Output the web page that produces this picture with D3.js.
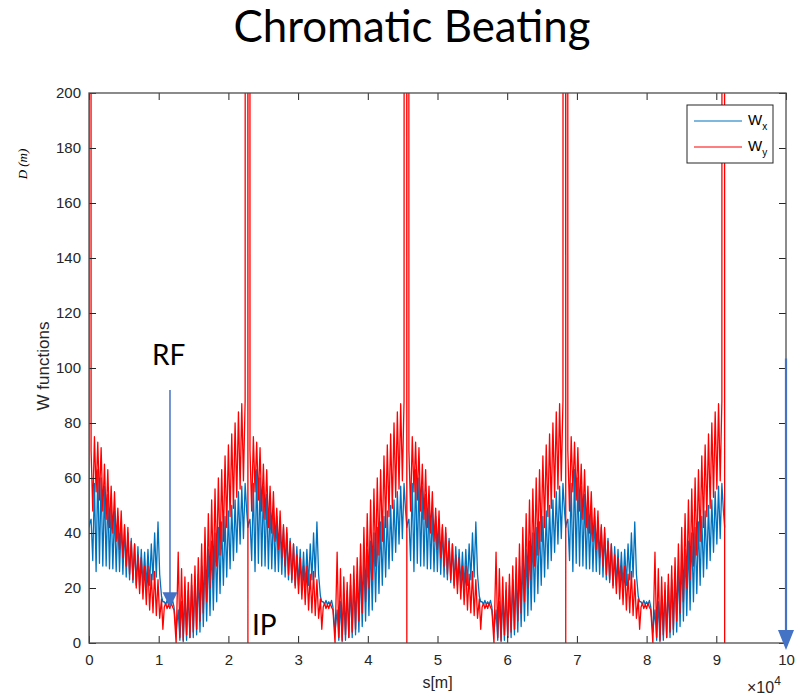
<!DOCTYPE html>
<html>
<head>
<meta charset="utf-8">
<script src="https://cdn.jsdelivr.net/npm/d3@7"></script>
<style>
  body { margin: 0; background: #fff; }
</style>
</head>
<body>
<div id="chart"></div>
<script>
// ---- data (s in units of 10^4 m, W in m) ----
var xTicks = [0, 1, 2, 3, 4, 5, 6, 7, 8, 9, 10];
var yTicks = [0, 20, 40, 60, 80, 100, 120, 140, 160, 180, 200];

// ring = 4 identical superperiods, IP at the start of each
var superPeriods = 4;
var superLength = 2.28;
var arcStep = 0.024;

// IP region (start of each superperiod and spike just before the next IP)
var sIP = [0, 0.015, 2.262];
var wyIP = [0, 3000, 3000];
var wxIP = [42, 44, 48];

// descending arc after the IP (peak, trough, peak, ...)
var arc1Start = 0.03;
var wyArc1 = [70, 48, 75, 55, 73, 52, 71, 48, 65, 45, 63, 42, 57, 40, 55, 37, 49, 34, 48, 31, 43, 28,
              42, 25, 37, 23, 36, 20, 32, 18, 31, 16, 28, 14, 28, 12, 25, 11, 26, 10, 23, 9];
var wxArc1 = [45, 30, 58, 26, 63, 29, 60, 28, 57, 28, 54, 27, 51, 27, 48, 26, 46, 26, 44, 25, 42, 24,
              40, 23, 38, 22, 36, 21, 35, 21, 34, 21, 33, 20, 34, 21, 36, 23, 40, 24, 44, 25];

// straight section (RF)
var sFlat = [1.04, 1.06, 1.08, 1.10, 1.12, 1.14, 1.16, 1.18, 1.20, 1.22, 1.25];
var wyFlat = [16, 5, 13, 14.5, 12.5, 14, 12.5, 14.5, 13, 12, 0];
var wxFlat = [17, 15, 15, 14, 15.5, 14, 15, 14, 15.5, 13, 4];

// rising arc towards the next IP
var arc2Start = 1.28;
var wyArc2 = [33, 2, 27, 1, 24, 3, 22, 2, 25, 4, 28, 5, 31, 8, 36, 11, 42, 15, 47, 20, 52, 23,
              56, 28, 60, 32, 63, 37, 68, 42, 72, 46, 76, 49, 80, 53, 84, 56, 87, 59, 88];
var wxArc2 = [12, 1, 15, 0.5, 17, 1, 19, 2, 21, 2, 23, 3, 25, 4, 28, 6, 31, 8, 34, 10, 37, 12,
              40, 15, 42, 18, 44, 21, 46, 24, 48, 27, 50, 30, 52, 33, 55, 36, 57, 38, 58];

// end of ring (last IP)
var ringEnd = {s: 9.12, wx: 42, wy: 0};

// annotation arrows (s, top value, tip value)
var rfArrow = {s: 1.162, from: 92, to: 13};
var endArrow = {s: 10, from: 103.5, to: -2.5};

// ---- chart ----
var svgWidth = 802;
var svgHeight = 695;
var margin = {top: 93, right: 16, bottom: 52, left: 89};
var width = svgWidth - margin.left - margin.right;
var height = svgHeight - margin.top - margin.bottom;

var axisColor = "#262626";
var blue = "#0072BD";
var red = "#FF0000";
var arrowBlue = "#4472C4";

var svg = d3.select("#chart")
  .append("svg")
  .attr("width", svgWidth)
  .attr("height", svgHeight);

var chartGroup = svg.append("g")
  .attr("transform", `translate(${margin.left}, ${margin.top})`);

var x = d3.scaleLinear().domain([0, 10]).range([0, width]);
var y = d3.scaleLinear().domain([0, 200]).range([height, 0]);

// assemble one superperiod from its pieces, shifted by offset
function buildPeriod(offset) {
  var pts = [];
  sIP.forEach(function(s, i) { pts.push({s: s, wx: wxIP[i], wy: wyIP[i]}); });
  wyArc1.forEach(function(v, i) { pts.push({s: arc1Start + i * arcStep, wx: wxArc1[i], wy: v}); });
  sFlat.forEach(function(s, i) { pts.push({s: s, wx: wxFlat[i], wy: wyFlat[i]}); });
  wyArc2.forEach(function(v, i) { pts.push({s: arc2Start + i * arcStep, wx: wxArc2[i], wy: v}); });
  pts.sort(function(a, b) { return a.s - b.s; });
  return pts.map(function(p) { return {s: p.s + offset, wx: p.wx, wy: p.wy}; });
}

var data = [];
for (var k = 0; k < superPeriods; k++) {
  data = data.concat(buildPeriod(k * superLength));
}
data.push(ringEnd);

// clip to plot box
svg.append("defs").append("clipPath")
  .attr("id", "plotClip")
  .append("rect")
  .attr("width", width)
  .attr("height", height);

var lineWx = d3.line().x(d => x(d.s)).y(d => y(d.wx));
var lineWy = d3.line().x(d => x(d.s)).y(d => y(d.wy));

var plotGroup = chartGroup.append("g").attr("clip-path", "url(#plotClip)");

plotGroup.append("path")
  .datum(data)
  .attr("d", lineWx)
  .attr("fill", "none")
  .attr("stroke", blue)
  .attr("stroke-width", 1.3)
  .attr("stroke-linejoin", "round");

plotGroup.append("path")
  .datum(data)
  .attr("d", lineWy)
  .attr("fill", "none")
  .attr("stroke", red)
  .attr("stroke-width", 1.3)
  .attr("stroke-linejoin", "round");

// axes (MATLAB style, ticks inside, box on)
function styleAxis(g) {
  g.select(".domain").remove();
  g.selectAll(".tick line").attr("stroke", axisColor);
  g.selectAll(".tick text")
    .attr("fill", axisColor)
    .attr("font-family", "Liberation Sans, Arial, sans-serif")
    .attr("font-size", "15px");
}

chartGroup.append("g")
  .attr("transform", `translate(0, ${height})`)
  .call(d3.axisBottom(x).tickValues(xTicks).tickSizeInner(-7).tickSizeOuter(0).tickPadding(11))
  .call(styleAxis);

chartGroup.append("g")
  .call(d3.axisTop(x).tickValues(xTicks).tickSizeInner(-7).tickSizeOuter(0).tickFormat(""))
  .call(styleAxis);

chartGroup.append("g")
  .call(d3.axisLeft(y).tickValues(yTicks).tickSizeInner(-7).tickSizeOuter(0).tickPadding(8))
  .call(styleAxis);

chartGroup.append("g")
  .attr("transform", `translate(${width}, 0)`)
  .call(d3.axisRight(y).tickValues(yTicks).tickSizeInner(-7).tickSizeOuter(0).tickFormat(""))
  .call(styleAxis);

chartGroup.append("rect")
  .attr("width", width)
  .attr("height", height)
  .attr("fill", "none")
  .attr("stroke", "#4d4d4d")
  .attr("stroke-width", 1.3);

// axis labels
chartGroup.append("text")
  .attr("x", width / 2)
  .attr("y", height + 45)
  .attr("text-anchor", "middle")
  .attr("font-family", "Liberation Sans, Arial, sans-serif")
  .attr("font-size", "16px")
  .attr("fill", axisColor)
  .text("s[m]");

var expLabel = chartGroup.append("text")
  .attr("x", width - 39)
  .attr("y", height + 50)
  .attr("font-family", "Liberation Sans, Arial, sans-serif")
  .attr("font-size", "16px")
  .attr("fill", axisColor);
expLabel.append("tspan").text("\u00d710");
expLabel.append("tspan").attr("dy", -8).attr("font-size", "12px").text("4");

chartGroup.append("text")
  .attr("transform", "rotate(-90)")
  .attr("x", -height / 2 + 2)
  .attr("y", -40)
  .attr("text-anchor", "middle")
  .attr("font-family", "Liberation Sans, Arial, sans-serif")
  .attr("font-size", "17px")
  .attr("fill", axisColor)
  .text("W functions");

chartGroup.append("text")
  .attr("transform", "rotate(-90)")
  .attr("x", -(164 - margin.top))
  .attr("y", -62)
  .attr("text-anchor", "middle")
  .attr("font-family", "Liberation Serif, serif")
  .attr("font-style", "italic")
  .attr("font-size", "13px")
  .attr("fill", "#000")
  .text("D  (m)");

// title
var title = svg.append("text")
  .attr("x", 412)
  .attr("y", 42)
  .attr("text-anchor", "middle")
  .attr("font-family", "Lato, sans-serif")
  .attr("font-size", "44px")
  .attr("fill", "#000")
  .text("Chromatic Beating");
var tw = title.node().getComputedTextLength();
title.attr("font-size", (44 * 357 / tw) + "px");

// legend
var legend = chartGroup.append("g")
  .attr("transform", `translate(${width - 99}, 12)`);
legend.append("rect")
  .attr("width", 86)
  .attr("height", 58)
  .attr("fill", "#fff")
  .attr("stroke", axisColor)
  .attr("stroke-width", 1);
var legendItems = [
  {name: "W", sub: "x", color: blue, yPos: 16},
  {name: "W", sub: "y", color: red, yPos: 42}
];
legendItems.forEach(function(item) {
  legend.append("line")
    .attr("x1", 7).attr("x2", 55)
    .attr("y1", item.yPos).attr("y2", item.yPos)
    .attr("stroke", item.color)
    .attr("stroke-width", 1.2);
  var t = legend.append("text")
    .attr("x", 61)
    .attr("y", item.yPos + 4)
    .attr("font-family", "Liberation Sans, Arial, sans-serif")
    .attr("font-size", "15px")
    .attr("fill", "#000");
  t.append("tspan").text(item.name);
  t.append("tspan").attr("dy", 5).attr("font-size", "10px").text(item.sub);
});

// annotations: arrows and text
function drawArrow(a, headW, headH, strokeW) {
  var xa = margin.left + x(a.s);
  var yTop = margin.top + y(a.from);
  var yTip = margin.top + y(a.to);
  svg.append("line")
    .attr("x1", xa).attr("x2", xa)
    .attr("y1", yTop).attr("y2", yTip - headH + 1)
    .attr("stroke", arrowBlue)
    .attr("stroke-width", strokeW);
  svg.append("path")
    .attr("d", `M${xa - headW / 2},${yTip - headH} L${xa + headW / 2},${yTip - headH} L${xa},${yTip} Z`)
    .attr("fill", arrowBlue);
}
drawArrow(rfArrow, 15, 15, 1.5);
drawArrow(endArrow, 16, 20, 2.2);

svg.append("text")
  .attr("x", 152)
  .attr("y", 365)
  .attr("font-family", "Lato, sans-serif")
  .attr("font-size", "28px")
  .attr("fill", "#000")
  .text("RF");

svg.append("text")
  .attr("x", 252)
  .attr("y", 635)
  .attr("font-family", "Lato, sans-serif")
  .attr("font-size", "28px")
  .attr("fill", "#000")
  .text("IP");
</script>
</body>
</html>
